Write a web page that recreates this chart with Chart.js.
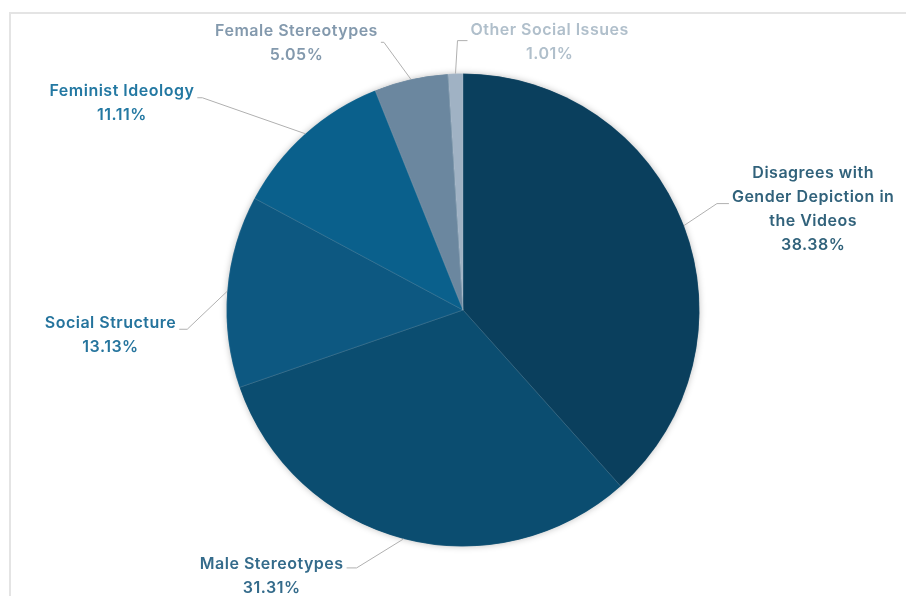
<!DOCTYPE html>
<html>
<head>
<meta charset="utf-8">
<script src="https://cdn.jsdelivr.net/npm/chart.js@4.4.1/dist/chart.umd.min.js"></script>
<style>
  html, body { margin: 0; padding: 0; background: #fff; }
  .frame {
    position: absolute; left: 9px; top: 12px; width: 920px; height: 620px;
    border-left: 2px solid #e4e4e4; border-top: 2px solid #e4e4e4;
  }
  .wrap { position: absolute; left: 0; top: 0; width: 906px; height: 596px; }
</style>
</head>
<body>
<div class="frame"></div>
<div class="wrap"><canvas id="pie_chart"></canvas></div>
<script>
const categories = [
  ["Disagrees with", "Gender Depiction in", "the Videos"],
  ["Male Stereotypes"],
  ["Social Structure"],
  ["Feminist Ideology"],
  ["Female Stereotypes"],
  ["Other Social Issues"]
];
const shares = [38.38, 31.31, 13.13, 11.11, 5.05, 1.01];

const slice_colors = ["#0a3f5d", "#0b4d70", "#0d5881", "#0a608c", "#6b879f", "#a0b2c4"];
const text_colors = ["#31627b", "#346b8b", "#25749d", "#2378a2", "#8399ad", "#b0bfcb"];

// leader line: elbow offset from slice edge, horizontal run, text block shift
const leaders = [
  { ex: 33, ey: -22, run: 12, ty: 6 },
  { ex: -47, ey: 29, run: -10, ty: 8 },
  { ex: -40, ey: 38, run: -8, ty: 6 },
  { ex: -103, ey: -36, run: -5, ty: 5 },
  { ex: -27, ey: -37, run: -3, ty: 1 },
  { ex: 2, ey: -33, run: 10, ty: 2 }
];

const ctx = document.getElementById("pie_chart").getContext("2d");

const pieShadow = {
  id: "pieShadow",
  beforeDatasetsDraw(chart) {
    const arc = chart.getDatasetMeta(0).data[0];
    if (!arc) return;
    const p = arc.getProps(["x", "y", "outerRadius"], true);
    const c = chart.ctx;
    c.save();
    c.shadowColor = "rgba(0,0,0,0.28)";
    c.shadowBlur = 7;
    c.fillStyle = "#0a3f5d";
    c.beginPath();
    c.arc(p.x, p.y, p.outerRadius - 0.5, 0, Math.PI * 2);
    c.fill();
    c.restore();
  }
};

const leaderLabels = {
  id: "leaderLabels",
  afterDatasetsDraw(chart) {
    const c = chart.ctx;
    const meta = chart.getDatasetMeta(0);
    const values = chart.data.datasets[0].data;
    const lineH = 24;
    c.save();
    c.font = "600 16px Inter";
    c.letterSpacing = "0.5px";
    c.textBaseline = "middle";
    c.textAlign = "center";
    meta.data.forEach((arc, i) => {
      const p = arc.getProps(["x", "y", "startAngle", "endAngle", "outerRadius"], true);
      const mid = (p.startAngle + p.endAngle) / 2;
      const sx = p.x + Math.cos(mid) * p.outerRadius;
      const sy = p.y + Math.sin(mid) * p.outerRadius;
      const L = leaders[i];
      const bx = sx + L.ex, by = sy + L.ey;
      const endX = bx + L.run;

      c.strokeStyle = "#b0b0b0";
      c.lineWidth = 1;
      c.beginPath();
      c.moveTo(sx, sy);
      c.lineTo(bx, by);
      c.lineTo(endX, by);
      c.stroke();

      const lines = chart.data.labels[i].concat([values[i].toFixed(2) + "%"]);
      const w = Math.max(...lines.map(t => c.measureText(t).width));
      const cx = L.run >= 0 ? endX + 3 + w / 2 : endX - 3 - w / 2;
      const top = by + L.ty - (lines.length - 1) * lineH / 2;
      c.fillStyle = text_colors[i];
      lines.forEach((t, k) => c.fillText(t, cx, top + k * lineH));
    });
    c.restore();
  }
};

new Chart(ctx, {
  type: "pie",
  data: {
    labels: categories,
    datasets: [{
      data: shares,
      backgroundColor: slice_colors,
      borderColor: "rgba(255,255,255,0.12)",
      borderWidth: 1
    }]
  },
  options: {
    responsive: true,
    maintainAspectRatio: false,
    animation: false,
    layout: { padding: { top: 73, bottom: 49, left: 226, right: 206 } },
    plugins: {
      legend: { display: false },
      tooltip: { enabled: false }
    }
  },
  plugins: [pieShadow, leaderLabels]
});
</script>
</body>
</html>
